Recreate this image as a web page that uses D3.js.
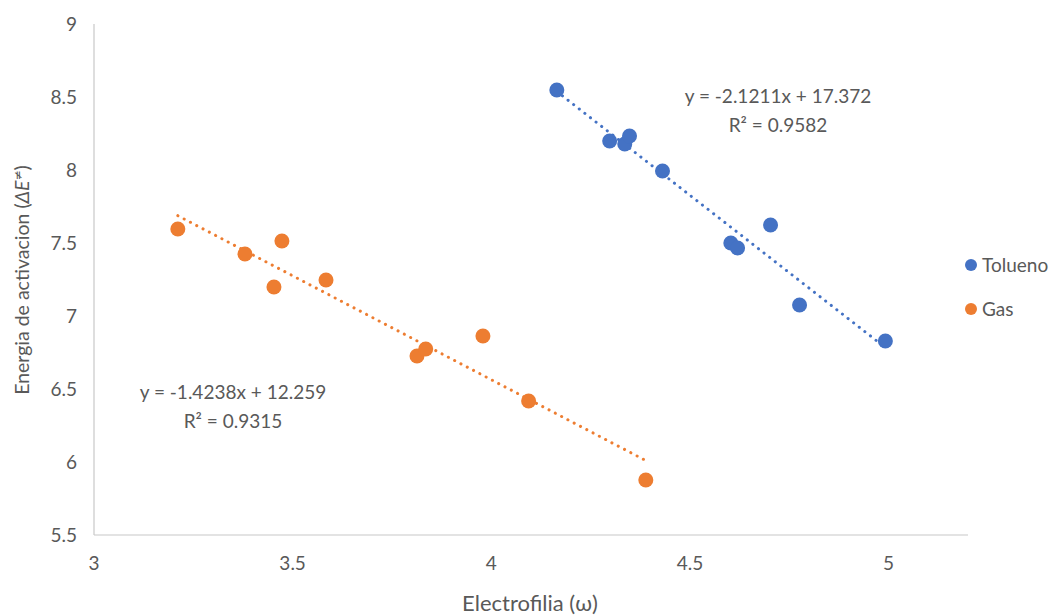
<!DOCTYPE html>
<html>
<head>
<meta charset="utf-8">
<script src="https://cdn.jsdelivr.net/npm/d3@7"></script>
<style>
  body { margin: 0; background: #fff; }
  svg text { font-family: Lato, "Open Sans", sans-serif; fill: #595959; }
</style>
</head>
<body>
<div class="chart"></div>
<script>
// Tolueno series
const toluenoX = [4.165, 4.298, 4.336, 4.348, 4.431, 4.603, 4.620, 4.703, 4.776, 4.992];
const toluenoY = [8.548, 8.199, 8.178, 8.233, 7.993, 7.500, 7.466, 7.623, 7.075, 6.829];
// Gas series
const gasX = [3.211, 3.380, 3.473, 3.453, 3.584, 3.813, 3.835, 3.979, 4.094, 4.389];
const gasY = [7.596, 7.425, 7.514, 7.199, 7.247, 6.726, 6.774, 6.863, 6.418, 5.877];

const xTicks = [3, 3.5, 4, 4.5, 5];
const yTicks = [5.5, 6, 6.5, 7, 7.5, 8, 8.5, 9];

// trend lines (slope, intercept, r2) as shown on chart
const toluenoFit = [-2.1211, 17.372, 0.9582];
const gasFit = [-1.4238, 12.259, 0.9315];

const width = 1064;
const height = 616;

const x = d3.scaleLinear().domain([3, 5.2]).range([94, 968]);
const y = d3.scaleLinear().domain([5.5, 9]).range([535, 24]);

const svg = d3
  .select(".chart")
  .append("svg")
  .attr("width", width)
  .attr("height", height);

// axis lines
svg.append("line")
  .attr("x1", x(3)).attr("x2", x(3))
  .attr("y1", y(9)).attr("y2", y(5.5))
  .attr("stroke", "#c8c8c8").attr("stroke-width", 1.2);
svg.append("line")
  .attr("x1", x(3)).attr("x2", x(5.2))
  .attr("y1", y(5.5)).attr("y2", y(5.5))
  .attr("stroke", "#c8c8c8").attr("stroke-width", 1.2);

// tick labels
svg.selectAll(".ytick")
  .data(yTicks)
  .join("text")
  .attr("class", "ytick")
  .attr("x", 77)
  .attr("y", (d) => y(d))
  .attr("dy", "0.35em")
  .attr("text-anchor", "end")
  .style("font-size", "19px")
  .text((d) => d);

svg.selectAll(".xtick")
  .data(xTicks)
  .join("text")
  .attr("class", "xtick")
  .attr("x", (d) => x(d))
  .attr("y", 570)
  .attr("text-anchor", "middle")
  .style("font-size", "19px")
  .text((d) => d);

// axis titles
svg.append("text")
  .attr("x", 530)
  .attr("y", 611)
  .attr("text-anchor", "middle")
  .style("font-size", "22px")
  .text("Electrofilia (ω)");

const yt = svg.append("text")
  .attr("transform", "translate(29,280) rotate(-90)")
  .attr("text-anchor", "middle")
  .style("font-size", "19.5px");
yt.append("tspan").text("Energia de activacion (");
yt.append("tspan").style("font-style", "italic").text("ΔE");
yt.append("tspan").attr("dy", -7)
  .style("font-size", "12px")
  .style("font-family", "'DejaVu Sans', sans-serif")
  .text("≠");
yt.append("tspan").attr("dy", 7).text(")");

// series
const series = [
  { name: "Tolueno", xs: toluenoX, ys: toluenoY, fit: toluenoFit, color: "#4472C4",
    label: [778, 96] },
  { name: "Gas", xs: gasX, ys: gasY, fit: gasFit, color: "#ED7D31",
    label: [233, 392] },
];

series.forEach((s, si) => {
  const pts = s.xs.map((v, i) => ({ x: v, y: s.ys[i] }));
  const [x0, x1] = d3.extent(s.xs);
  const line = d3.line().x((d) => x(d)).y((d) => y(s.fit[0] * d + s.fit[1]));

  svg.append("path")
    .datum([x0, x1])
    .attr("d", line)
    .attr("fill", "none")
    .attr("stroke", s.color)
    .attr("stroke-width", 3)
    .attr("stroke-linecap", "round")
    .attr("stroke-dasharray", "0.1,7");

  svg.selectAll(".dot" + si)
    .data(pts)
    .join("circle")
    .attr("cx", (d) => x(d.x))
    .attr("cy", (d) => y(d.y))
    .attr("r", 7.5)
    .attr("fill", s.color);

  // equation labels
  const sign = s.fit[1] >= 0 ? "+" : "-";
  svg.append("text")
    .attr("x", s.label[0])
    .attr("y", s.label[1])
    .attr("dy", "0.35em")
    .attr("text-anchor", "middle")
    .style("font-size", "19px")
    .text(`y = ${s.fit[0]}x ${sign} ${Math.abs(s.fit[1])}`);
  svg.append("text")
    .attr("x", s.label[0])
    .attr("y", s.label[1] + 29)
    .attr("dy", "0.35em")
    .attr("text-anchor", "middle")
    .style("font-size", "19px")
    .text(`R² = ${s.fit[2]}`);

  // legend
  svg.append("circle")
    .attr("cx", 971)
    .attr("cy", 265 + si * 44)
    .attr("r", 6)
    .attr("fill", s.color);
  svg.append("text")
    .attr("x", 982)
    .attr("y", 265 + si * 44)
    .attr("dy", "0.35em")
    .style("font-size", "19px")
    .text(s.name);
});
</script>
</body>
</html>
